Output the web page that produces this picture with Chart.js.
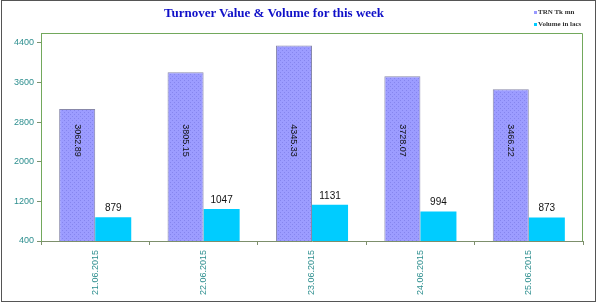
<!DOCTYPE html>
<html>
<head>
<meta charset="utf-8">
<script src="https://cdn.jsdelivr.net/npm/chart.js@4/dist/chart.umd.min.js"></script>
<style>
  html, body { margin: 0; padding: 0; background: #fff; }
  #wrap { position: relative; width: 600px; height: 306px; overflow: hidden; }
  #frame { position: absolute; left: 1px; top: 0; width: 595px; height: 302px; border: 1px solid #555; box-sizing: border-box; pointer-events: none; }
  #title { position: absolute; left: 164px; top: 5px; width: 220px; text-align: center; font: bold 13px "Liberation Serif", serif; color: #1010c8; white-space: nowrap; }
  .leg { position: absolute; left: 534px; font: bold 7px "Liberation Serif", serif; color: #333; white-space: nowrap; }
  .leg span { display: inline-block; width: 3px; height: 3px; margin-right: 1px; vertical-align: middle; }
  canvas { position: absolute; left: 0; top: 0; }
</style>
</head>
<body>
<div id="wrap">
  <canvas id="chart" width="600" height="306"></canvas>
  <div id="title">Turnover Value &amp; Volume for this week</div>
  <div class="leg" style="top:8px"><span style="background:#9999ff"></span>TRN Tk mn</div>
  <div class="leg" style="top:20px"><span style="background:#00ccff"></span>Volume in lacs</div>
  <div id="frame"></div>
</div>
<script>
const dates = ['21.06.2015', '22.06.2015', '23.06.2015', '24.06.2015', '25.06.2015'];
const turnover = [3062.89, 3805.15, 4345.33, 3728.07, 3466.22];
const volume = [879, 1047, 1131, 994, 873];
const yTicks = [400, 1200, 2000, 2800, 3600, 4400];

// dotted fill like the excel pattern
function dotPattern() {
  const c = document.createElement('canvas');
  c.width = 4; c.height = 4;
  const g = c.getContext('2d');
  g.fillStyle = '#9c9cff';
  g.fillRect(0, 0, 4, 4);
  g.fillStyle = '#8585ee';
  g.fillRect(0, 0, 1, 1);
  g.fillRect(2, 2, 1, 1);
  return g.createPattern(c, 'repeat');
}

const labelPlugin = {
  id: 'barLabels',
  afterDatasetsDraw(chart) {
    const ctx = chart.ctx;
    const y = chart.scales.y;
    const a = chart.chartArea;
    ctx.save();
    // plot border
    ctx.strokeStyle = '#72a85c';
    ctx.lineWidth = 1;
    ctx.beginPath();
    ctx.moveTo(a.left + 0.5, a.bottom);
    ctx.lineTo(a.left + 0.5, a.top + 0.5);
    ctx.lineTo(a.right - 0.5, a.top + 0.5);
    ctx.lineTo(a.right - 0.5, a.bottom);
    ctx.stroke();

    ctx.fillStyle = '#111';
    ctx.textAlign = 'center';
    ctx.textBaseline = 'middle';
    ctx.font = '9px "Liberation Sans", Arial';
    chart.getDatasetMeta(0).data.forEach(function(bar, i) {
      ctx.save();
      ctx.translate(bar.x, y.getPixelForValue(2430));
      ctx.rotate(Math.PI / 2);
      ctx.fillText(turnover[i].toFixed(2), 0, 0);
      ctx.restore();
    });
    ctx.font = '10px "Liberation Sans", Arial';
    ctx.textBaseline = 'bottom';
    chart.getDatasetMeta(1).data.forEach(function(bar, i) {
      ctx.fillText(String(volume[i]), bar.x, bar.y - 4);
    });
    ctx.restore();
  }
};

const ctx = document.getElementById('chart').getContext('2d');
new Chart(ctx, {
  type: 'bar',
  data: {
    labels: dates,
    datasets: [{
      label: 'TRN Tk mn',
      data: turnover,
      backgroundColor: dotPattern(),
      borderColor: '#8888aa',
      borderWidth: 1,
      borderSkipped: 'bottom',
      barPercentage: 1,
      categoryPercentage: 0.665
    }, {
      label: 'Volume in lacs',
      data: volume,
      backgroundColor: '#00ccff',
      borderWidth: 0,
      barPercentage: 1,
      categoryPercentage: 0.665
    }]
  },
  options: {
    responsive: false,
    animation: false,
    layout: { padding: { left: 0, top: 33, right: 17, bottom: 0 } },
    plugins: {
      legend: { display: false },
      title: { display: false },
      tooltip: { enabled: false }
    },
    scales: {
      x: {
        grid: { drawOnChartArea: false, tickLength: 4, color: '#7d8f6c', offset: true },
        border: { color: '#7d8f6c' },
        ticks: {
          color: '#2e8f8f',
          font: { size: 9, family: '"Liberation Sans", Arial' },
          minRotation: 90,
          maxRotation: 90,
          padding: 5
        },
        afterFit(scale) { scale.height = 65; }
      },
      y: {
        min: 400,
        max: 4600,
        grid: { drawOnChartArea: false, tickLength: 4, color: '#7d8f6c' },
        border: { color: '#72a85c' },
        ticks: {
          color: '#2e8f8f',
          font: { size: 9, family: '"Liberation Sans", Arial' },
          padding: 3,
          callback: v => String(v)
        },
        afterBuildTicks(scale) {
          scale.ticks = yTicks.map(v => ({ value: v }));
        },
        afterFit(scale) { scale.width = 41; }
      }
    }
  },
  plugins: [labelPlugin]
});
</script>
</body>
</html>
